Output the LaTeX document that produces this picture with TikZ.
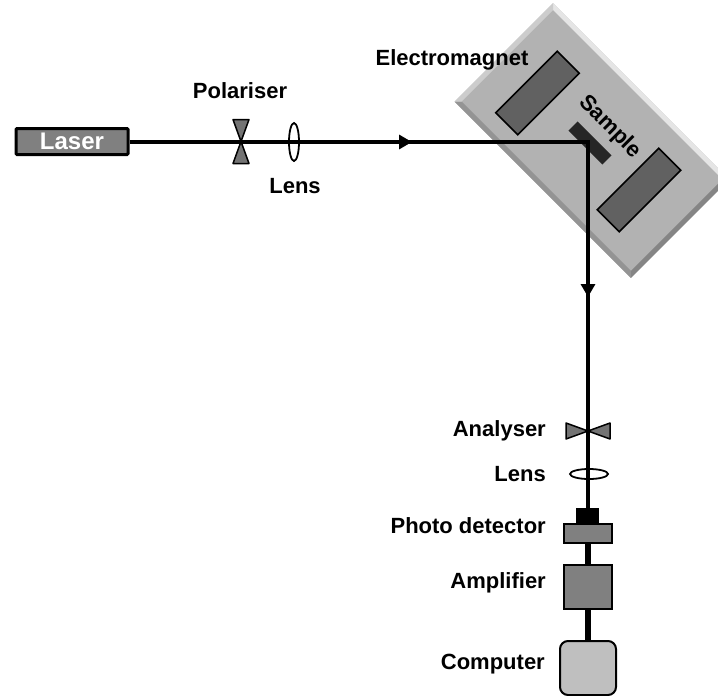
\documentclass[tikz,border=0pt]{standalone}
\usepackage{fontspec}
\setmainfont{Liberation Sans}
\usetikzlibrary{shapes.geometric, arrows.meta, positioning, calc}

\begin{document}
\begin{tikzpicture}[
    x=1pt, y=-1pt,
    box/.style={rectangle, draw, line width=2pt, fill=black!50, minimum width=48pt, inner sep=0pt},
    darkbox/.style={rectangle, draw, line width=1.6pt, fill=black!62, minimum width=87pt, minimum height=31pt, rotate=45},
    lens/.style={ellipse, draw, line width=1.8pt, inner sep=0pt},
    label/.style={font=\bfseries\fontsize{22}{24}\selectfont, inner sep=0pt, text=black},
    beam/.style={line width=3.2pt},
    wire/.style={line width=5.5pt},
    arrow/.style={beam, -{Triangle[width=14pt,length=13pt]}},
    bowtie/.style={draw=black, line width=1.5pt, fill=black!55, line join=round},
    bevel/.style={draw=none, fill=#1}
]
    \useasboundingbox (0,0) rectangle (718,696);

    % Electromagnet
    \node[rectangle, fill=black!30, minimum width=249pt, minimum height=139pt, rotate=-45] (magnet) at (592,140.5) {};
    \node[rectangle, fill=black!30, minimum width=239pt, minimum height=129pt, rotate=-45] (inner) at (592,140.5) {};
    \fill[bevel=black!10] (magnet.north west) -- (magnet.north east) -- (inner.north east) -- (inner.north west) -- cycle;
    \fill[bevel=black!48] (magnet.north east) -- (magnet.south east) -- (inner.south east) -- (inner.north east) -- cycle;
    \fill[bevel=black!42] (magnet.south east) -- (magnet.south west) -- (inner.south west) -- (inner.south east) -- cycle;
    \fill[bevel=black!20] (magnet.south west) -- (magnet.north west) -- (inner.north west) -- (inner.south west) -- cycle;
    \node[darkbox] (poleA) at (537.5,93) {};
    \node[darkbox] (poleB) at (639,190) {};
    \node[rectangle, fill=black!85, minimum width=48pt, minimum height=13pt, rotate=-45] (sample) at (590,143) {};

    % Optical path
    \node[rectangle, draw, line width=3pt, fill=black!50, minimum width=112pt, minimum height=26pt, rounded corners=1pt,
        text=white, font=\bfseries\fontsize{24}{26}\selectfont, inner sep=0pt] (laser) at (72,141.5) {Laser};
    \coordinate (polariser) at (241,141.5);
    \coordinate (tailA) at (398,142);
    \coordinate (arrowA) at (412,142);
    \coordinate (reflect) at (588,142);
    \coordinate (tailB) at (588,283);
    \coordinate (arrowB) at (588,297);
    \coordinate (analyser) at (588,431);

    % Detection chain
    \node[rectangle, fill=black, minimum width=23pt, minimum height=16pt, inner sep=0pt] (head) at (587.5,516) {};
    \node[box, minimum height=19pt] (detector) at (588,533) {};
    \node[box, minimum height=44pt] (amplifier) at (588,586.5) {};
    \node[rectangle, draw, line width=2pt, fill=black!25, rounded corners=8pt, minimum width=56pt, minimum height=54pt, inner sep=0pt] (computer) at (588,668) {};

    % Arrows
    \draw[beam] (laser.east |- reflect) -- (reflect) -- (reflect |- head.north);
    \draw[arrow] (tailA) -- (arrowA);
    \draw[arrow] (tailB) -- (arrowB);
    \draw[wire] (detector) -- (amplifier);
    \draw[wire] (amplifier) -- (computer);

    % Polariser and analyser
    \draw[bowtie] (polariser) -- ++(-8,-22) -- ++(16,0) -- cycle;
    \draw[bowtie] (polariser) -- ++(-8,22) -- ++(16,0) -- cycle;
    \draw[bowtie] (analyser) -- ++(-22,-8) -- ++(0,16) -- cycle;
    \draw[bowtie] (analyser) -- ++(22,-8) -- ++(0,16) -- cycle;

    % Lenses
    \node[lens, minimum width=10pt, minimum height=38pt] (lensA) at (294,142) {};
    \node[lens, minimum width=38pt, minimum height=10pt] (lensB) at (589,474) {};

    % Labels
    \node[label] (polariserlabel) at (240,91) {Polariser};
    \node[label] (lensAlabel) at (295,186) {Lens};
    \node[label] (magnetlabel) at (452,60) {Electromagnet};
    \node[label, rotate=-45] (samplelabel) at (610,127) {Sample};
    \node[label, anchor=east] (analyserlabel) at (546,431) {Analyser};
    \node[label, anchor=east] (lensBlabel) at (546,474) {Lens};
    \node[label, anchor=east] (detectorlabel) at (546,526) {Photo detector};
    \node[label, anchor=east] (amplifierlabel) at (546,583) {Amplifier};
    \node[label, anchor=east] (computerlabel) at (545,664) {Computer};
\end{tikzpicture}
\end{document}
